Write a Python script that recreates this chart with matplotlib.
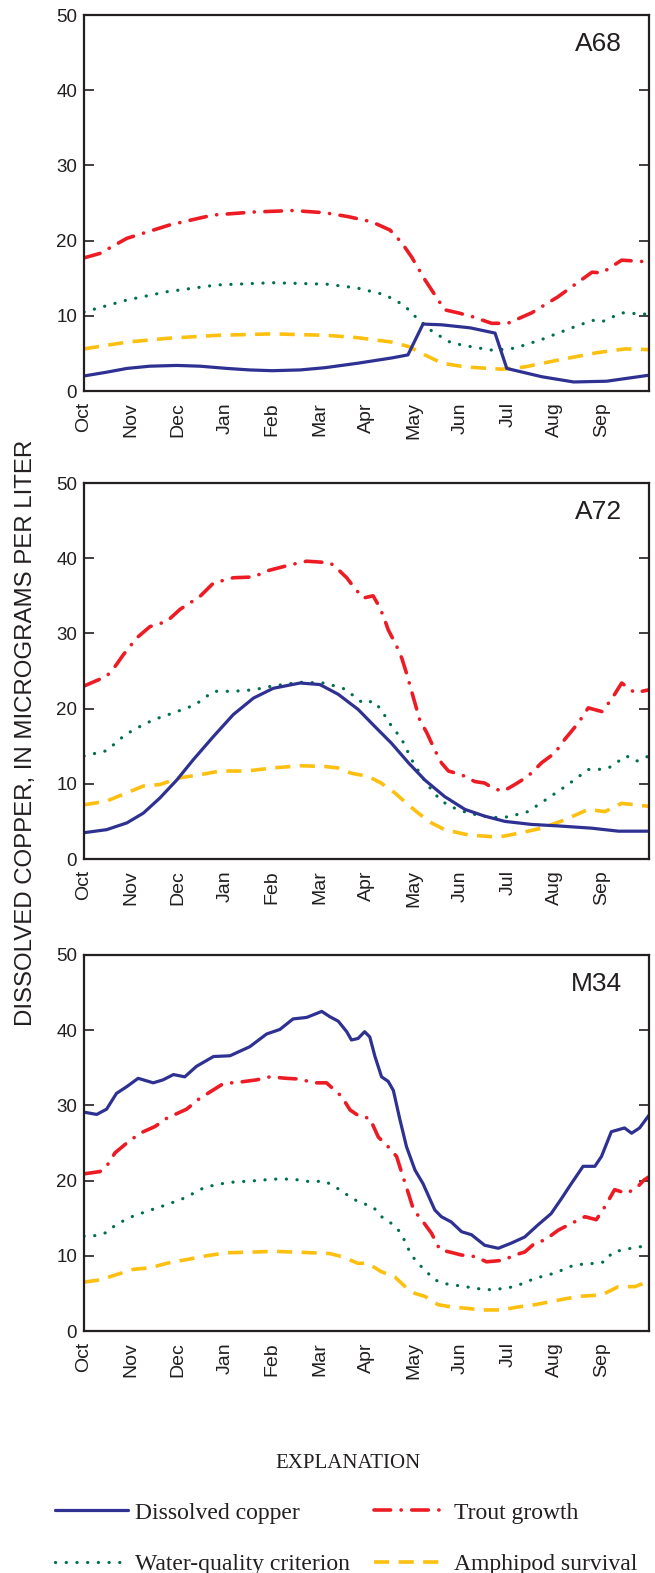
import matplotlib
matplotlib.use("Agg")
import matplotlib.pyplot as plt
from matplotlib.lines import Line2D

# ---------------- data (x in months since Oct 1; 0..12) ----------------
months = ["Oct", "Nov", "Dec", "Jan", "Feb", "Mar", "Apr", "May", "Jun", "Jul", "Aug", "Sep"]
yticks = [0, 10, 20, 30, 40, 50]
sites = ["A68", "A72", "M34"]

# A68
a68_cu_x = [0, 0.48, 0.91, 1.4, 1.97, 2.46, 3.04, 3.52, 4.0, 4.59, 5.12, 5.82, 6.54, 6.88, 7.2, 7.6, 8.2, 8.73, 8.98, 9.72, 10.4, 11.1, 12.0]
a68_cu_y = [2.0, 2.5, 3.0, 3.3, 3.4, 3.3, 3.0, 2.8, 2.7, 2.8, 3.1, 3.7, 4.4, 4.8, 8.9, 8.8, 8.4, 7.7, 3.0, 1.9, 1.2, 1.3, 2.1]
a68_tr_x = [0, 0.34, 0.91, 1.83, 2.74, 3.6, 4.44, 5.12, 5.6, 6.11, 6.5, 6.75, 6.96, 7.24, 7.66, 7.94, 8.24, 8.66, 9.0, 9.51, 10.06, 10.79, 11.0, 11.42, 11.91, 12.0]
a68_tr_y = [17.7, 18.3, 20.3, 22.1, 23.4, 23.8, 24.0, 23.7, 23.2, 22.5, 21.4, 19.7, 17.8, 14.8, 10.8, 10.4, 9.9, 9.0, 9.0, 10.4, 12.5, 15.8, 15.7, 17.4, 17.2, 17.2]
a68_wq_x = [0, 0.91, 1.76, 2.82, 4.0, 5.16, 5.8, 6.39, 6.8, 7.0, 7.4, 7.8, 8.3, 8.7, 9.15, 9.7, 10.36, 10.8, 11.0, 11.42, 12.0]
a68_wq_y = [10.5, 12.1, 13.2, 14.1, 14.4, 14.2, 13.7, 12.8, 11.4, 10.1, 7.9, 6.4, 5.8, 5.4, 5.7, 6.8, 8.4, 9.4, 9.2, 10.4, 10.2]
a68_am_x = [0, 0.91, 1.76, 2.82, 4.0, 5.16, 5.8, 6.54, 6.9, 7.24, 7.6, 8.1, 8.87, 9.36, 10.06, 10.9, 11.5, 12.0]
a68_am_y = [5.6, 6.5, 7.0, 7.4, 7.6, 7.4, 7.1, 6.5, 5.9, 4.8, 3.7, 3.2, 2.9, 3.2, 4.1, 5.1, 5.6, 5.5]

# A72
a72_cu_x = [0, 0.48, 0.91, 1.26, 1.61, 1.97, 2.32, 2.75, 3.17, 3.6, 4.02, 4.59, 5.01, 5.4, 5.82, 6.18, 6.53, 6.89, 7.24, 7.66, 8.09, 8.51, 8.94, 9.5, 10.07, 10.78, 11.35, 12.0]
a72_cu_y = [3.5, 3.9, 4.8, 6.1, 8.1, 10.5, 13.2, 16.3, 19.2, 21.4, 22.7, 23.4, 23.2, 21.9, 19.9, 17.6, 15.4, 12.8, 10.5, 8.3, 6.6, 5.7, 5.0, 4.6, 4.4, 4.1, 3.7, 3.7]
a72_tr_x = [0, 0.48, 0.66, 0.84, 1.12, 1.4, 1.76, 2.04, 2.46, 2.75, 3.17, 3.6, 3.88, 4.37, 4.73, 5.22, 5.33, 5.58, 5.75, 5.93, 6.14, 6.25, 6.36, 6.46, 6.64, 6.75, 6.85, 6.99, 7.13, 7.28, 7.45, 7.59, 7.74, 8.02, 8.3, 8.51, 8.69, 8.9, 9.15, 9.43, 9.72, 10.0, 10.21, 10.5, 10.71, 11.0, 11.2, 11.42, 11.7, 12.0]
a72_tr_y = [23.0, 24.3, 25.6, 27.2, 29.4, 30.9, 31.6, 33.2, 34.9, 36.7, 37.4, 37.5, 38.3, 39.1, 39.6, 39.4, 38.9, 37.4, 36.0, 34.7, 35.0, 33.8, 32.3, 30.5, 28.3, 26.7, 24.7, 21.6, 18.5, 16.8, 14.5, 12.8, 11.7, 11.2, 10.3, 10.1, 9.4, 9.0, 9.9, 11.0, 12.8, 14.1, 15.9, 18.1, 20.1, 19.6, 21.2, 23.4, 22.1, 22.5]
a72_wq_x = [0, 0.48, 0.87, 1.12, 1.47, 1.93, 2.36, 2.75, 3.17, 3.6, 4.0, 4.59, 5.12, 5.54, 5.93, 6.14, 6.31, 6.46, 6.75, 6.96, 7.17, 7.38, 7.56, 7.77, 8.16, 8.65, 9.01, 9.43, 9.86, 10.28, 10.71, 10.92, 11.14, 11.52, 11.73, 12.0]
a72_wq_y = [13.7, 14.4, 16.5, 17.4, 18.5, 19.5, 20.5, 22.3, 22.3, 22.5, 23.0, 23.5, 23.4, 22.6, 20.7, 21.0, 19.9, 18.3, 15.9, 13.2, 11.0, 9.2, 7.9, 7.0, 6.1, 5.5, 5.6, 6.3, 8.1, 9.9, 11.9, 11.9, 12.1, 13.7, 13.0, 13.7]
a72_am_x = [0, 0.48, 0.91, 1.26, 1.61, 2.04, 2.46, 2.89, 3.45, 4.0, 4.59, 5.12, 5.4, 5.68, 6.03, 6.31, 6.6, 6.85, 7.1, 7.38, 7.66, 8.16, 8.8, 9.29, 9.72, 10.21, 10.71, 11.06, 11.42, 12.0]
a72_am_y = [7.2, 7.7, 8.8, 9.7, 9.9, 10.8, 11.2, 11.7, 11.7, 12.1, 12.4, 12.3, 12.1, 11.4, 11.0, 10.1, 8.8, 7.4, 6.1, 4.8, 3.9, 3.2, 2.9, 3.5, 4.1, 5.2, 6.6, 6.3, 7.4, 7.0]

# M34
m34_cu_x = [0, 0.27, 0.48, 0.69, 0.91, 1.15, 1.47, 1.68, 1.9, 2.14, 2.39, 2.75, 3.1, 3.52, 3.88, 4.16, 4.44, 4.73, 5.05, 5.22, 5.4, 5.58, 5.68, 5.82, 5.96, 6.07, 6.18, 6.32, 6.46, 6.57, 6.71, 6.85, 7.03, 7.2, 7.45, 7.59, 7.8, 8.02, 8.23, 8.51, 8.8, 9.08, 9.36, 9.64, 9.92, 10.14, 10.35, 10.6, 10.85, 10.99, 11.2, 11.48, 11.63, 11.8, 12.0]
m34_cu_y = [29.1, 28.8, 29.5, 31.6, 32.5, 33.6, 33.0, 33.4, 34.1, 33.8, 35.2, 36.5, 36.6, 37.8, 39.5, 40.1, 41.5, 41.7, 42.5, 41.8, 41.2, 39.8, 38.7, 38.9, 39.8, 39.1, 36.5, 33.8, 33.2, 32.0, 28.1, 24.5, 21.4, 19.6, 16.1, 15.2, 14.5, 13.2, 12.8, 11.4, 11.0, 11.7, 12.5, 14.1, 15.6, 17.6, 19.6, 21.9, 21.9, 23.2, 26.5, 27.0, 26.3, 27.0, 28.7]
m34_tr_x = [0, 0.34, 0.48, 0.66, 0.91, 1.19, 1.51, 1.76, 2.18, 2.43, 2.68, 2.96, 3.31, 3.67, 3.95, 4.3, 4.59, 4.87, 5.15, 5.47, 5.65, 5.86, 6.07, 6.25, 6.46, 6.64, 6.75, 6.89, 7.0, 7.17, 7.38, 7.56, 7.77, 8.02, 8.3, 8.55, 8.9, 9.15, 9.36, 9.58, 9.79, 10.07, 10.35, 10.64, 10.88, 11.06, 11.27, 11.52, 11.73, 11.9, 12.0]
m34_tr_y = [20.9, 21.2, 21.9, 23.7, 25.0, 26.3, 27.2, 28.3, 29.5, 30.8, 31.8, 32.9, 33.1, 33.4, 33.8, 33.6, 33.5, 33.0, 33.0, 31.2, 29.4, 28.5, 28.3, 25.8, 24.5, 23.2, 21.0, 18.3, 16.1, 14.8, 13.0, 10.8, 10.5, 10.1, 9.9, 9.2, 9.4, 10.1, 10.5, 11.7, 12.1, 13.4, 14.3, 15.2, 14.8, 16.5, 18.8, 18.3, 19.0, 20.1, 20.5]
m34_wq_x = [0, 0.27, 0.48, 0.69, 1.05, 1.47, 1.76, 2.14, 2.53, 2.82, 3.17, 3.67, 4.02, 4.44, 4.73, 5.12, 5.33, 5.54, 5.82, 6.14, 6.32, 6.53, 6.71, 6.82, 6.92, 7.06, 7.24, 7.45, 7.66, 8.09, 8.51, 8.72, 9.15, 9.58, 10.0, 10.42, 10.85, 11.06, 11.23, 11.62, 12.0]
m34_wq_y = [12.6, 12.7, 13.1, 14.2, 15.3, 16.2, 16.8, 17.7, 19.0, 19.5, 19.8, 20.0, 20.2, 20.2, 19.9, 19.9, 19.2, 18.3, 17.2, 16.5, 15.2, 14.3, 13.2, 11.9, 10.5, 9.2, 8.1, 6.8, 6.3, 5.9, 5.5, 5.5, 5.9, 7.0, 7.7, 8.8, 9.0, 9.2, 10.5, 11.0, 11.4]
m34_am_x = [0, 0.34, 0.69, 1.05, 1.4, 1.76, 2.18, 2.6, 3.03, 3.6, 4.02, 4.44, 4.87, 5.22, 5.47, 5.82, 6.03, 6.31, 6.6, 6.82, 7.03, 7.24, 7.52, 7.8, 8.16, 8.44, 8.87, 9.22, 9.58, 10.07, 10.5, 11.0, 11.35, 11.7, 12.0]
m34_am_y = [6.5, 6.8, 7.5, 8.2, 8.4, 9.0, 9.5, 10.0, 10.4, 10.5, 10.6, 10.5, 10.4, 10.3, 9.9, 9.0, 9.0, 7.9, 7.2, 5.9, 5.0, 4.6, 3.5, 3.2, 3.0, 2.8, 2.8, 3.2, 3.5, 4.1, 4.6, 4.8, 5.9, 5.9, 6.6]

panels = [
    (a68_cu_x, a68_cu_y, a68_tr_x, a68_tr_y, a68_wq_x, a68_wq_y, a68_am_x, a68_am_y),
    (a72_cu_x, a72_cu_y, a72_tr_x, a72_tr_y, a72_wq_x, a72_wq_y, a72_am_x, a72_am_y),
    (m34_cu_x, m34_cu_y, m34_tr_x, m34_tr_y, m34_wq_x, m34_wq_y, m34_am_x, m34_am_y),
]

# ---------------- styles ----------------
BLUE = "#2E3192"
RED = "#ED1C24"
GREEN = "#00704A"
YELLOW = "#FDC010"
INK = "#231F20"

plt.rcParams["font.family"] = ["Liberation Sans", "DejaVu Sans"]

W, H = 655, 1573
fig = plt.figure(figsize=(W / 100, H / 100), dpi=100)

left_px, right_px = 84, 649
tops = [15, 483, 955]
ph = 376

styles = {
    "cu": dict(color=BLUE, lw=2.3, linestyle="-", solid_joinstyle="round", solid_capstyle="round"),
    "tr": dict(color=RED, lw=2.6, linestyle=(0, (4.6, 2.9, 0.05, 2.9)), dash_capstyle="round"),
    "wq": dict(color=GREEN, lw=2.3, linestyle=(0, (0.05, 3.3)), dash_capstyle="round"),
    "am": dict(color=YELLOW, lw=2.6, linestyle=(0, (4.2, 2.6)), dash_capstyle="butt"),
}

for i, (top, site, data) in enumerate(zip(tops, sites, panels)):
    ax = fig.add_axes([left_px / W, 1 - (top + ph) / H, (right_px - left_px) / W, ph / H])
    cux, cuy, trx, try_, wqx, wqy, amx, amy = data
    ax.plot(amx, amy, **styles["am"])
    ax.plot(wqx, wqy, **styles["wq"])
    ax.plot(trx, try_, **styles["tr"])
    ax.plot(cux, cuy, **styles["cu"])
    ax.set_xlim(0, 12)
    ax.set_ylim(0, 50)
    ax.set_yticks(yticks)
    ax.set_yticklabels([str(v) for v in yticks])
    ax.set_xticks(range(12))
    ax.set_xticklabels(months, rotation=90, va="top", ha="center")
    ax.tick_params(axis="y", direction="in", length=7.5, width=1.2, colors=INK,
                   labelsize=13.5, pad=5, right=True, left=True, labelright=False)
    ax.tick_params(axis="x", length=0, labelsize=14, pad=8, colors=INK)
    for sp in ax.spines.values():
        sp.set_linewidth(1.6)
        sp.set_color(INK)
    ax.text(0.952, 0.924, site, transform=ax.transAxes, ha="right", va="center",
            fontsize=19, color=INK)

fig.text(26 / W, 1 - 733 / H, "DISSOLVED COPPER, IN MICROGRAMS PER LITER",
         rotation=90, ha="center", va="center", fontsize=17.3, color=INK)

# ---------------- explanation ----------------
fig.text(348 / W, 1 - 1463 / H, "EXPLANATION", ha="center", va="center",
         fontsize=15, family=["Liberation Serif", "DejaVu Serif"], color=INK)

handles = [
    Line2D([], [], **styles["cu"]),
    Line2D([], [], **styles["wq"]),
    Line2D([], [], **styles["tr"]),
    Line2D([], [], **styles["am"]),
]
labels = ["Dissolved copper", "Water-quality criterion", "Trout growth", "Amphipod survival"]
leg = fig.legend(handles, labels, ncol=2, loc="upper left",
                 bbox_to_anchor=(55 / W, 1 - 1502 / H), frameon=False,
                 borderpad=0, borderaxespad=0, handlelength=3.1, handletextpad=0.3,
                 columnspacing=1.0, labelspacing=1.27,
                 prop=dict(family=["Liberation Serif", "DejaVu Serif"], size=17))
for t in leg.get_texts():
    t.set_color(INK)

fig.savefig("out.png", dpi=100)
